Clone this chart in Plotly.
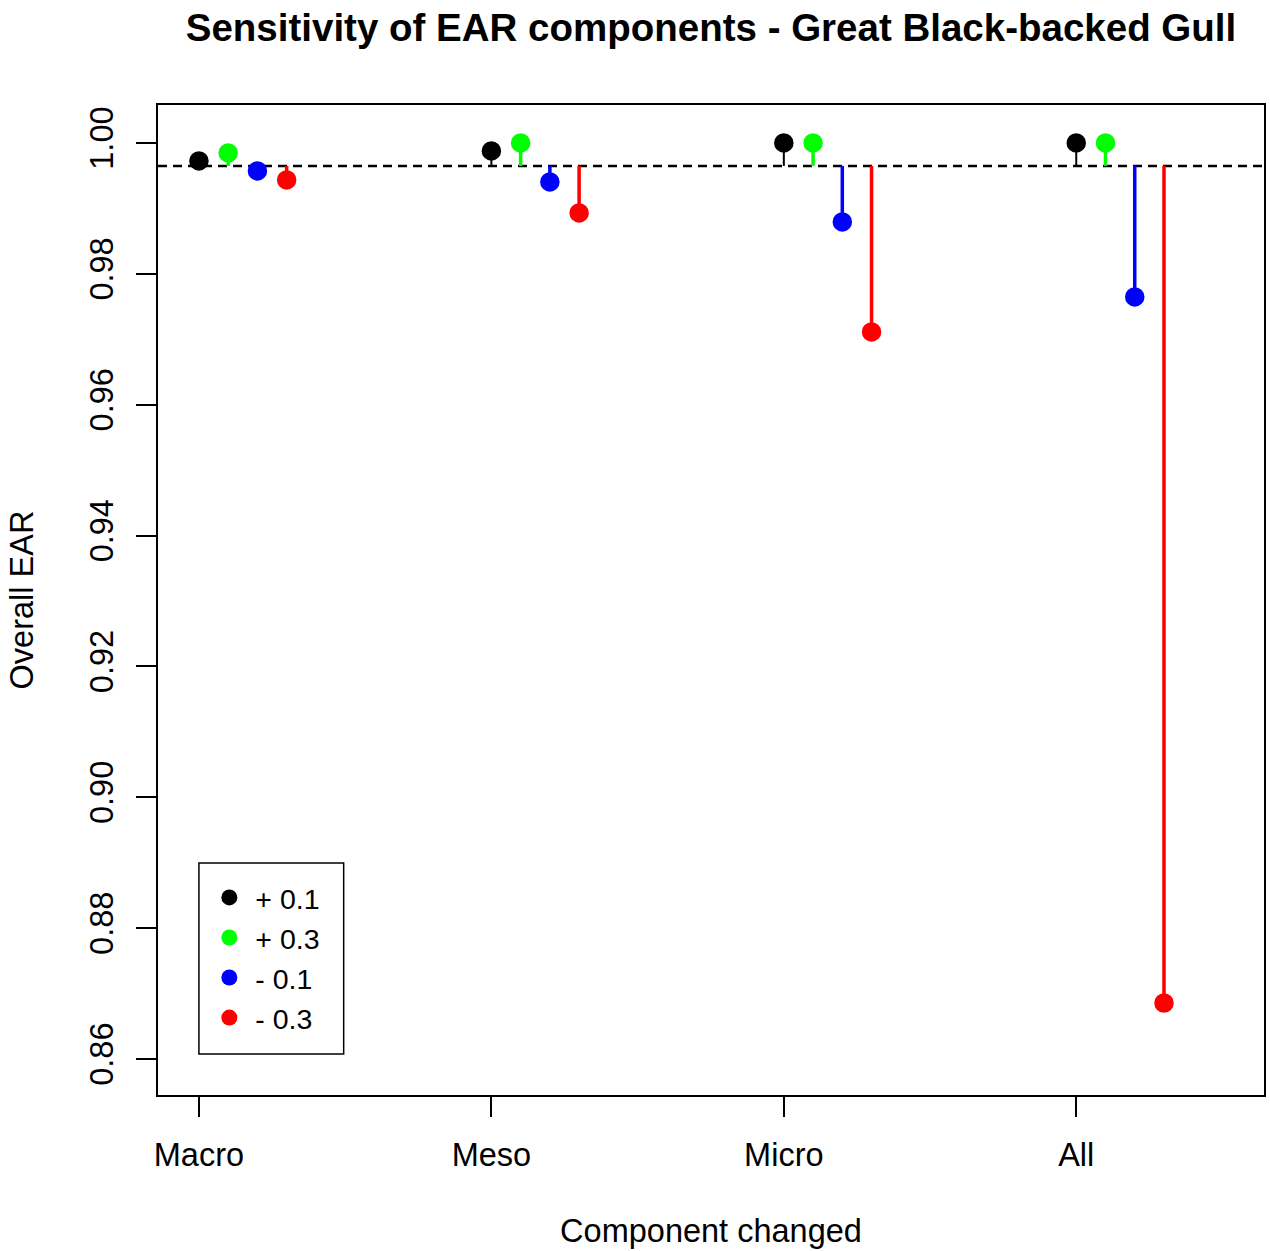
import plotly.graph_objects as go

# ---- data ----
categories = ["Macro", "Meso", "Micro", "All"]
series_names = ["+ 0.1", "+ 0.3", "- 0.1", "- 0.3"]
plus_01 = [0.99725, 0.99878, 1.00000, 1.00000]
plus_03 = [0.99847, 1.00000, 1.00000, 1.00000]
minus_01 = [0.99572, 0.99404, 0.98793, 0.97647]
minus_03 = [0.99435, 0.98930, 0.97112, 0.86856]
baseline = 0.99649
y_ticks = [0.86, 0.88, 0.90, 0.92, 0.94, 0.96, 0.98, 1.00]

series_values = [plus_01, plus_03, minus_01, minus_03]
colors = ["#000000", "#00FF00", "#0000FF", "#FF0000"]
stem_widths = [2, 3.5, 3.5, 3.5]
offsets = [0.0, 0.1, 0.2, 0.3]

FONT = "Liberation Sans, Arial, sans-serif"
W, H = 1270, 1251
L, R, T, B = 158, 4, 105, 156
x_range = [0.86, 4.642]
y_range = [0.8545, 1.0058]

fig = go.Figure()

# baseline dashed line across plot
fig.add_trace(go.Scatter(
    x=x_range, y=[baseline, baseline], mode="lines",
    line=dict(color="black", width=2.5, dash="9px,6px"),
    showlegend=False, hoverinfo="skip"))

# stems
for name, vals, col, lw, off in zip(series_names, series_values, colors, stem_widths, offsets):
    xs, ys = [], []
    for i, v in enumerate(vals):
        xs += [i + 1 + off, i + 1 + off, None]
        ys += [baseline, v, None]
    fig.add_trace(go.Scatter(x=xs, y=ys, mode="lines",
                             line=dict(color=col, width=lw),
                             showlegend=False, hoverinfo="skip"))

# points
for name, vals, col, off in zip(series_names, series_values, colors, offsets):
    fig.add_trace(go.Scatter(
        x=[i + 1 + off for i in range(len(vals))], y=vals, mode="markers",
        marker=dict(color=col, size=19.5, line=dict(width=0)),
        name=name, showlegend=True))

pw = W - L - R
ph = H - T - B
# legend box (paper coords)
lx0 = (199 - L) / pw
lx1 = (344 - L) / pw
ly1 = (H - B - 863) / ph
ly0 = (H - B - 1054) / ph

fig.update_layout(
    width=W, height=H,
    margin=dict(l=L, r=R, t=T, b=B),
    paper_bgcolor="white", plot_bgcolor="white",
    font=dict(family=FONT, size=32.5, color="black"),
    title=dict(text="<b>Sensitivity of EAR components - Great Black-backed Gull</b>",
               x=0.5, xref="paper", xanchor="center",
               y=1 - 28 / H, yref="container", yanchor="middle",
               font=dict(size=38.5, family=FONT, color="black")),
    xaxis=dict(range=x_range, tickmode="array", tickvals=[1, 2, 3, 4], ticktext=categories,
               showgrid=False, zeroline=False, showline=True, linecolor="black", linewidth=2,
               mirror=True, ticks="outside", ticklen=20, tickwidth=1.5, tickcolor="black",
               ticklabelstandoff=10,
               title=dict(text="Component changed", standoff=47, font=dict(size=32.5))),
    yaxis=dict(range=y_range, tickmode="array", tickvals=y_ticks,
               ticktext=[f"{v:.2f}" for v in y_ticks], tickangle=-90,
               showgrid=False, zeroline=False, showline=True, linecolor="black", linewidth=2,
               mirror=True, ticks="outside", ticklen=20, tickwidth=1.5, tickcolor="black",
               ticklabelstandoff=10,
               title=dict(text="Overall EAR", standoff=41, font=dict(size=32.5))),
    legend=dict(x=lx0 + 0.004, y=ly1 - 0.0095, xanchor="left", yanchor="top",
                bgcolor="rgba(0,0,0,0)", borderwidth=0, itemwidth=42,
                font=dict(size=28.5), itemsizing="trace", tracegroupgap=0),
    shapes=[dict(type="rect", xref="paper", yref="paper", x0=lx0, x1=lx1, y0=ly0, y1=ly1,
                 line=dict(color="black", width=1.5), fillcolor="rgba(0,0,0,0)", layer="above")],
)

fig.write_html("out.html", config={"displayModeBar": False},
               post_script="document.body.style.margin='0';")
